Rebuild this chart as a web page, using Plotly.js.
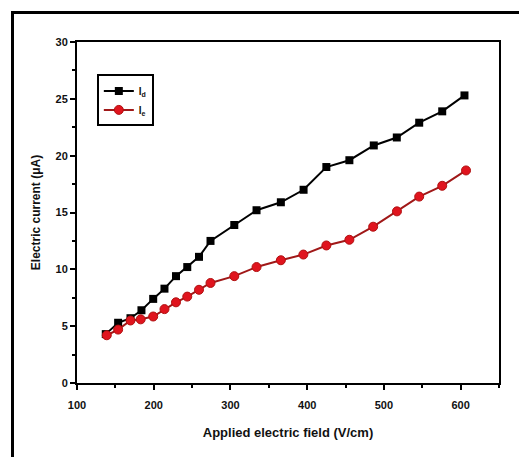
<!DOCTYPE html>
<html>
<head>
<meta charset="utf-8">
<script src="https://cdn.plot.ly/plotly-3.0.1.min.js"></script>
<style>
html,body{margin:0;padding:0;background:#fff;}
#wrap{position:relative;width:519px;height:457px;overflow:hidden;}
#frame{position:absolute;left:11px;top:11px;width:520px;height:460px;border-left:3px solid #000;border-top:3px solid #000;pointer-events:none;}
#chart{position:absolute;left:0;top:0;width:519px;height:457px;}
</style>
</head>
<body>
<div id="wrap"><div id="chart"></div><div id="frame"></div></div>
<script>
const fieldD = [137.5,153.6,169.7,184,199.3,214,229,243.7,259,274,305,334,365.7,395.3,425,455,486.8,516.8,546,576,605];
const currentD = [4.3,5.3,5.7,6.4,7.4,8.3,9.4,10.2,11.1,12.5,13.9,15.2,15.9,17.0,19.0,19.6,20.9,21.6,22.9,23.9,25.3];
const fieldE = [138.8,153.6,169.7,183,199.3,214,229,243.7,259,274,305,334,365.7,395,425,455,486,517,546,576,607];
const currentE = [4.2,4.7,5.5,5.6,5.85,6.5,7.1,7.6,8.2,8.8,9.4,10.2,10.8,11.3,12.1,12.6,13.75,15.1,16.4,17.35,18.7];
const xTicks = [100,200,300,400,500,600];
const yTicks = [0,5,10,15,20,25,30];

const FAM = 'Liberation Sans, Arial, sans-serif';
const fnt = {family:FAM, size:11, color:'#111', weight:'bold'};

const traces = [
  {x:fieldD, y:currentD, name:'I<sub>d</sub>', mode:'lines+markers', type:'scatter',
   line:{color:'#000', width:2}, marker:{symbol:'square', size:8, color:'#000'}},
  {x:fieldE, y:currentE, name:'I<sub>e</sub>', mode:'lines+markers', type:'scatter',
   line:{color:'#a01818', width:2}, marker:{symbol:'circle', size:9, color:'#e0141e', line:{color:'#b01010', width:1}}}
];

const axisCommon = {
  showgrid:false, zeroline:false, showline:true, linecolor:'#000', linewidth:2,
  mirror:true, ticks:'outside', ticklen:5, tickwidth:2, tickcolor:'#000',
  tickfont:fnt
};

const layout = {
  width:519, height:457,
  margin:{l:77, r:20, t:42, b:74},
  paper_bgcolor:'#fff', plot_bgcolor:'#fff',
  showlegend:true,
  legend:{x:0.047, y:0.905, xanchor:'left', yanchor:'top', bordercolor:'#000', borderwidth:2,
          bgcolor:'#fff', font:{family:FAM, size:10, color:'#111', weight:'bold'},
          tracegroupgap:0, itemwidth:30},
  xaxis:Object.assign({}, axisCommon, {
    range:[100,650], tickvals:xTicks, ticktext:xTicks.map(String), ticklabelstandoff:6,
    minor:{dtick:50, ticks:'outside', ticklen:3, tickwidth:2, tickcolor:'#000'},
    title:{text:'Applied electric field (V/cm)', font:{family:FAM, size:13, color:'#111', weight:'bold'}, standoff:18}
  }),
  yaxis:Object.assign({}, axisCommon, {
    range:[0,30], tickvals:yTicks, ticktext:yTicks.map(String),
    minor:{dtick:2.5, ticks:'outside', ticklen:3, tickwidth:2, tickcolor:'#000'},
    title:{text:'Electric current (μA)', font:{family:FAM, size:12, color:'#111', weight:'bold'}, standoff:12}
  })
};

Plotly.newPlot('chart', traces, layout, {displayModeBar:false, staticPlot:true});
</script>
</body>
</html>
